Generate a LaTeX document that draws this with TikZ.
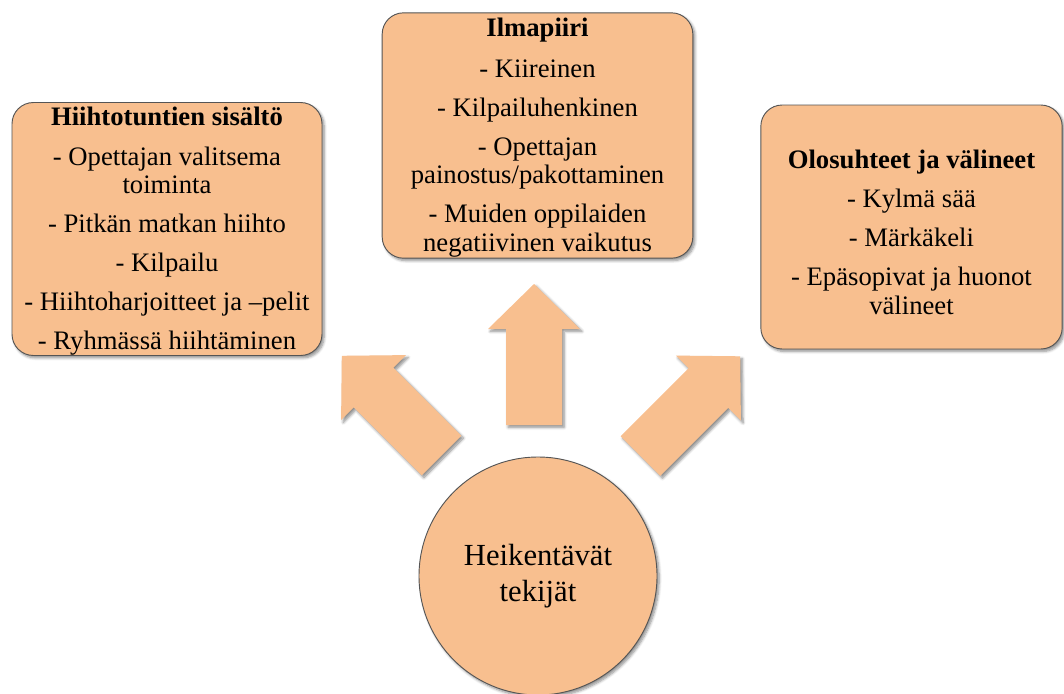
\documentclass[tikz,border=0pt]{standalone}
\usepackage{fontspec}
\setmainfont{Liberation Serif}
\usetikzlibrary{shadows.blur}
\definecolor{peach}{RGB}{248,191,143}
\definecolor{edge}{RGB}{85,85,85}
\tikzset{
  shade/.style={blur shadow={shadow xshift=1.6pt, shadow yshift=-1.8pt, shadow blur steps=6, shadow blur radius=2pt, shadow opacity=45}},
  infobox/.style={shade, draw=edge, line width=0.7pt, fill=peach, rounded corners=16pt, align=center, inner sep=0pt,
    font=\fontsize{20}{21.6}\selectfont},
  hub/.style={shade, circle, draw=edge, line width=0.7pt, fill=peach, minimum size=178.5pt, inner sep=0pt, align=center,
    font=\fontsize{23}{27}\selectfont},
  blockarrow/.style={shade, fill=peach, draw=none}
}
\newcommand{\itemgap}{\\[7.6pt]}
\begin{document}
\begin{tikzpicture}[x=0.75pt, y=-0.75pt]
\useasboundingbox (0,0) rectangle (1064,693);
% boxes
\node[infobox, minimum width=232.5pt, minimum height=184.5pt] (hiihto) at (167,229)
  {\rule{0pt}{17pt}\textbf{Hiihtotuntien sisältö}\\[8.4pt]
   - Opettajan valitsema\\toiminta\itemgap
   - Pitkän matkan hiihto\itemgap
   - Kilpailu\itemgap
   - Hiihtoharjoitteet ja –pelit\itemgap
   - Ryhmässä hiihtäminen};
\node[infobox, minimum width=233pt, minimum height=184pt] (ilma) at (537.5,135.5)
  {\rule{0pt}{17pt}\textbf{Ilmapiiri}\\[9pt]
   - Kiireinen\itemgap
   - Kilpailuhenkinen\itemgap
   - Opettajan\\painostus/pakottaminen\itemgap
   - Muiden oppilaiden\\negatiivinen vaikutus};
\node[infobox, minimum width=226pt, minimum height=183pt] (olo) at (911.5,227)
  {\rule{0pt}{22pt}\textbf{Olosuhteet ja välineet}\itemgap
   - Kylmä sää\itemgap
   - Märkäkeli\itemgap
   - Epäsopivat ja huonot\\välineet};
% hub
\node[hub] (heik) at (538,576) {Heikentävät\\tekijät};
% block arrows (base midpoints as named coordinates)
\coordinate (aup) at (534,425);
\coordinate (aleft) at (441.5,455.5);
\coordinate (aright) at (640.5,456);
\foreach \c/\r in {aup/0, aleft/45, aright/-45}{
  \begin{scope}[shift={(\c)}, rotate=\r]
    \path[blockarrow] (-28,0) -- (28,0) -- (28,-96) -- (46,-96) -- (0,-141) -- (-46,-96) -- (-28,-96) -- cycle;
  \end{scope}
}
\end{tikzpicture}
\end{document}
